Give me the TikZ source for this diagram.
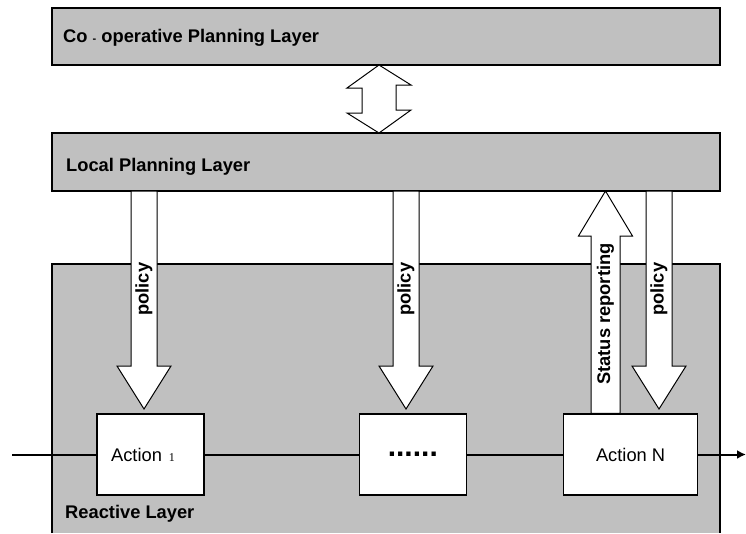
\documentclass[tikz,border=0pt]{standalone}
\usepackage{fontspec}
\setmainfont{Liberation Sans}
\newfontfamily\digitfont{Liberation Serif}
\usepackage{tikz}
\usetikzlibrary{arrows.meta,calc,positioning}
\definecolor{layergray}{RGB}{192,192,192}

\begin{document}
\begin{tikzpicture}[x=1pt,y=-1pt,>={Latex[length=9pt,width=9pt]},
		layerbox/.style={draw,line width=2pt,fill=layergray,minimum width=668pt,inner sep=0pt,outer sep=0pt},
		layertitle/.style={inner sep=0pt,font=\fontsize{18.3}{22}\selectfont\bfseries},
		actionbox/.style={draw,line width=1.3pt,fill=white,minimum height=81pt,inner sep=0pt,font=\fontsize{18.3}{22}\selectfont},
		blockarrow/.style={draw,line width=1pt,fill=white,line join=miter},
		vlabel/.style={rotate=90,inner sep=0pt,font=\fontsize{18.3}{22}\selectfont\bfseries},
		flowline/.style={line width=2pt}]
		\useasboundingbox (0,0) rectangle (746,533);

		\node[fill=layergray,minimum width=668pt,minimum height=269pt,inner sep=0pt] (react) at (386,398.5) {};
		\draw[line width=2pt] (react.south west) -- (react.north west) -- (react.north east) -- (react.south east);
		\node[layerbox,minimum height=57pt] (coop)  at (386,36.5) {};
		\node[layerbox,minimum height=58pt] (local) at (386,162)  {};

		\node[layertitle,anchor=base west] at ($(coop.west)+(11,6)$)    {Co {\fontsize{11}{11}\selectfont -} operative Planning Layer};
		\node[layertitle,anchor=base west] at ($(local.west)+(14,9.5)$) {Local Planning Layer};
		\node[layertitle,anchor=base west] at (65,518)                   {Reactive Layer};

		\node[actionbox,minimum width=107pt]                        (act1) at (150.5,454.5) {Action\hspace{7pt}{\digitfont\fontsize{12}{12}\selectfont 1}\hspace*{15pt}};
		\node[actionbox,minimum width=107pt,right=154pt of act1]    (dots)                  {\fontsize{30}{30}\selectfont\bfseries ......};
		\node[actionbox,minimum width=134pt,right=96pt of dots]     (actN)                  {Action N};

		\coordinate (in)  at (12,454.5);
		\coordinate (out) at (746,454.5);
		\draw[flowline,->] (in) -- (act1) (act1) -- (dots) (dots) -- (actN) (actN) -- (out);

		\coordinate (dbl) at (379,0);
		\draw[blockarrow] (coop.south -| dbl) -- ++(32,20) -- ++(-15,0) -- ++(0,25) -- ++(15,0) -- (local.north -| dbl)
			-- ++(-32,-20) -- ++(15,0) -- ++(0,-25) -- ++(-15,0) -- cycle;

		\foreach \px/\name in {144/pol1, 406/pol2, 659/pol3}{
			\coordinate (\name) at (\px,409);
			\draw[blockarrow] (\name) -- ++(27,-43) -- ++(-14,0) -- ($(\name |- local.south)+(13,0)$) -- ++(-26,0)
				-- ($(\name)+(-13,-43)$) -- ++(-14,0) -- cycle;
			\node[vlabel] at ($(\name |- local.south)!0.45!(\name)$) {policy};
		}

		\coordinate (st) at (605.5,0);
		\draw[blockarrow] (local.south -| st) -- ++(27,45) -- ++(-12.5,0) -- ($(actN.north -| st)+(14.5,0)$) -- ++(-29,0)
			-- ($(local.south -| st)+(-14.5,45)$) -- ++(-12.5,0) -- cycle;
		\node[vlabel] at (605.5,314) {Status reporting};
\end{tikzpicture}
\end{document}
